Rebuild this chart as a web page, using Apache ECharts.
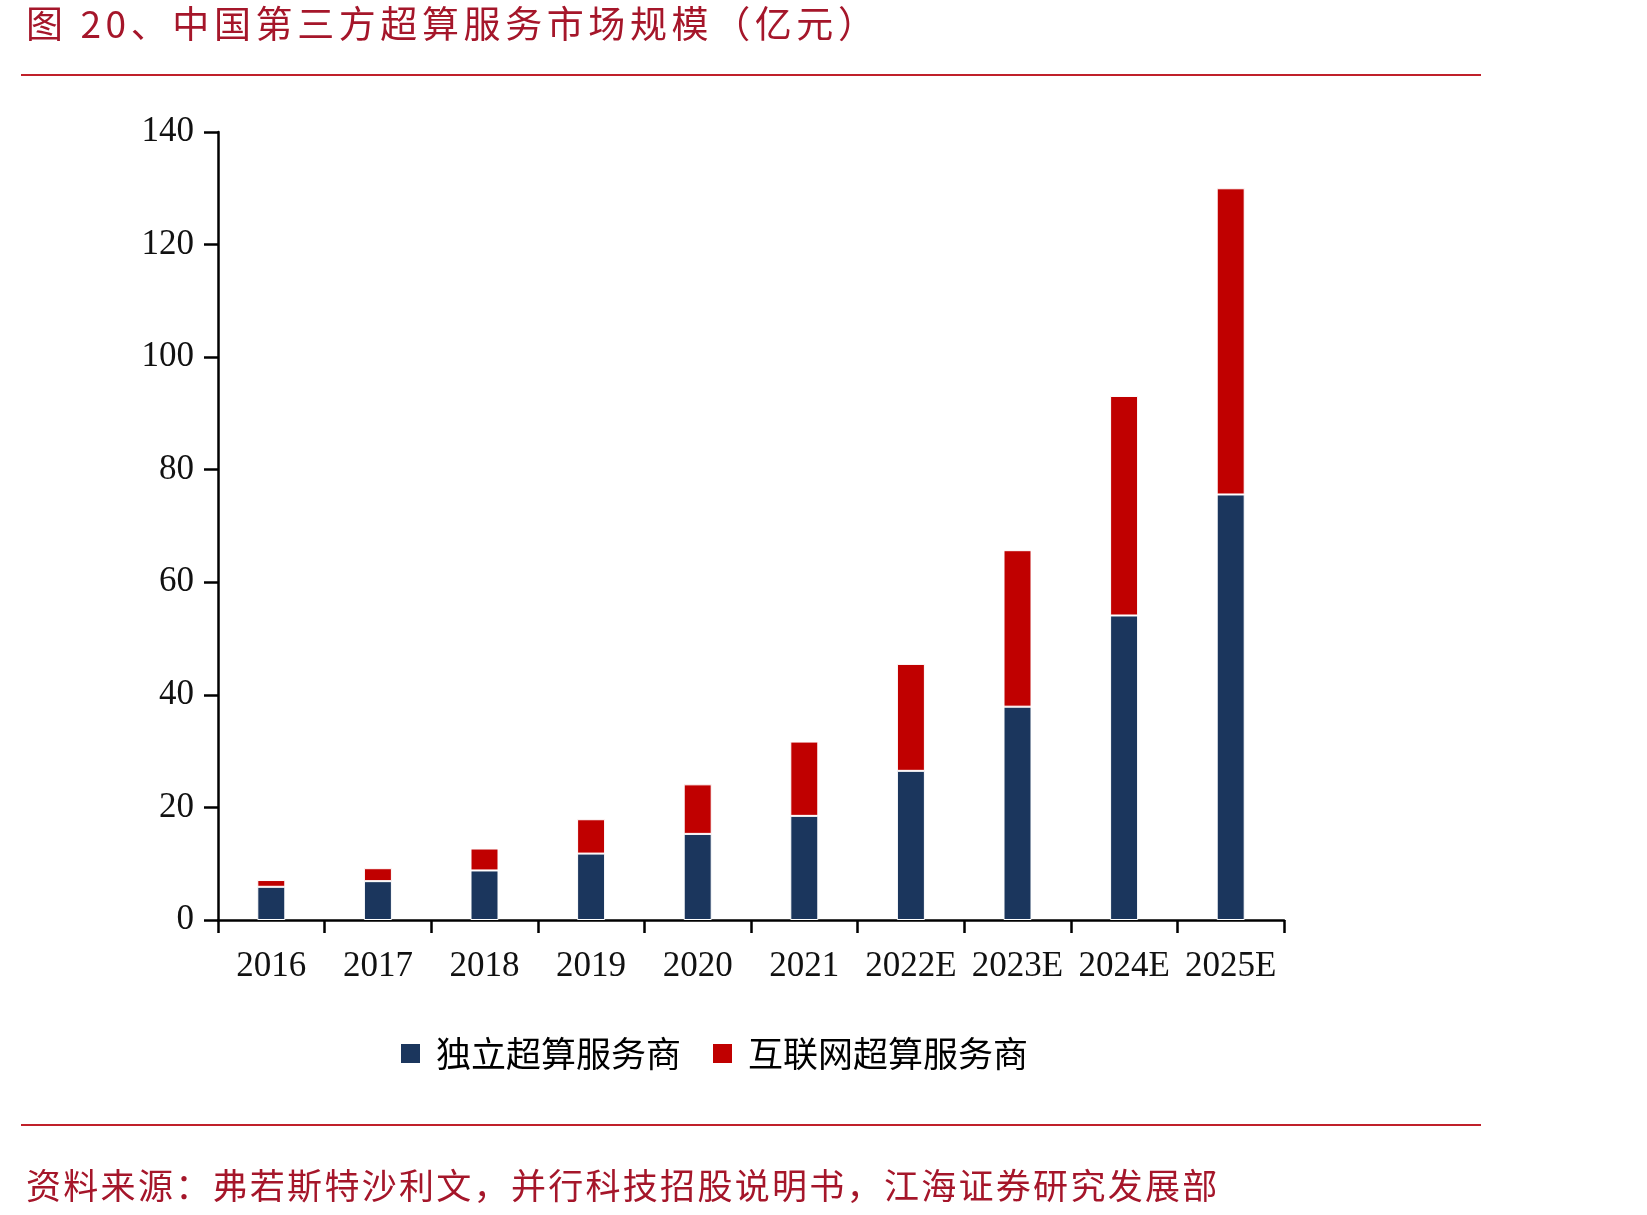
<!DOCTYPE html>
<html>
<head>
<meta charset="utf-8">
<script src="https://cdn.jsdelivr.net/npm/echarts@6/dist/echarts.min.js"></script>
<style>
html,body{margin:0;padding:0;background:#fff;}
#wrap{position:relative;width:1647px;height:1215px;}
#chart{position:absolute;left:0;top:0;width:1647px;height:1215px;}
.txt{position:absolute;white-space:nowrap;font-family:"Noto Sans CJK SC",sans-serif;color:#A5162A;}
#title{left:26px;top:4px;font-size:37px;line-height:37px;letter-spacing:4.6px;}
#source{left:26px;top:1166px;font-size:35px;line-height:35px;letter-spacing:2.3px;}
</style>
</head>
<body>
<div id="wrap">
<div id="chart"></div>
<div id="title" class="txt"></div>
<div id="source" class="txt"></div>
</div>
<script>
var categories = ['2016','2017','2018','2019','2020','2021','2022E','2023E','2024E','2025E'];
var independent = [5.9, 6.9, 8.8, 11.8, 15.3, 18.5, 26.5, 37.9, 54.1, 75.6];
var internet = [1.2, 2.3, 3.9, 6.1, 8.8, 13.2, 19.0, 27.8, 39.0, 54.4];
var seriesNames = ['独立超算服务商', '互联网超算服务商'];
var titleText = '图 20、中国第三方超算服务市场规模（亿元）';
var sourceText = '资料来源：弗若斯特沙利文，并行科技招股说明书，江海证券研究发展部';

document.getElementById('title').textContent = titleText;
document.getElementById('source').textContent = sourceText;

var chart = echarts.init(document.getElementById('chart'));
var cjk = '"Noto Sans CJK SC", sans-serif';
var serif = '"Liberation Serif", "DejaVu Serif", serif';
chart.setOption({
  animation: false,
  backgroundColor: 'transparent',
  graphic: [
    {type: 'line', shape: {x1: 21, y1: 75, x2: 1481, y2: 75}, style: {stroke: '#C0202A', lineWidth: 2}},
    {type: 'line', shape: {x1: 21, y1: 1125, x2: 1481, y2: 1125}, style: {stroke: '#C0202A', lineWidth: 2}}
  ],
  legend: {
    data: seriesNames,
    left: 394, top: 1031,
    icon: 'rect', itemWidth: 21, itemHeight: 21, itemGap: 30,
    textStyle: {fontFamily: cjk, fontSize: 35, color: '#000', padding: [0, 0, 0, 10]}
  },
  grid: {left: 218, right: 363, top: 132, bottom: 295, containLabel: false},
  xAxis: {
    type: 'category',
    data: categories,
    axisLine: {lineStyle: {color: '#000', width: 2.5}},
    axisTick: {show: true, length: 13, inside: false, lineStyle: {color: '#000', width: 2.5}},
    axisLabel: {fontFamily: serif, fontSize: 35, color: '#111', margin: 29, interval: 0}
  },
  yAxis: {
    type: 'value',
    min: 0, max: 140, interval: 20,
    splitLine: {show: false},
    axisLine: {show: true, lineStyle: {color: '#000', width: 2.5}},
    axisTick: {show: true, length: 14, lineStyle: {color: '#000', width: 2.5}},
    axisLabel: {fontFamily: serif, fontSize: 35, color: '#111', margin: 24}
  },
  series: [{
    name: seriesNames[0], type: 'bar', stack: 'total', data: independent,
    barWidth: 28,
    itemStyle: {color: '#1B365D', borderColor: '#fff', borderWidth: 1}
  }, {
    name: seriesNames[1], type: 'bar', stack: 'total', data: internet,
    barWidth: 28,
    itemStyle: {color: '#C00000', borderColor: '#fff', borderWidth: 1}
  }]
});
</script>
</body>
</html>
